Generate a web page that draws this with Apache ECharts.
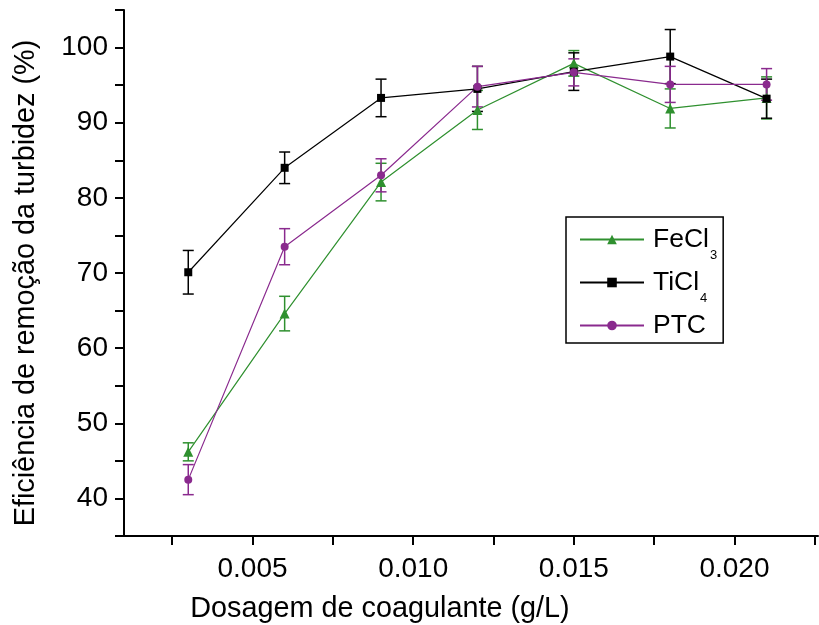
<!DOCTYPE html>
<html>
<head>
<meta charset="utf-8">
<script src="https://cdn.jsdelivr.net/npm/echarts@6/dist/echarts.min.js"></script>
<style>
html,body{margin:0;padding:0;background:#fff;}
#chart{width:819px;height:625px;}
</style>
</head>
<body>
<div id="chart"></div>
<script>
// Data
const doses = [0.003, 0.006, 0.009, 0.012, 0.015, 0.018, 0.021];
const fecl3 = [46.2, 64.6, 82.1, 91.7, 97.9, 91.9, 93.3];
const fecl3Err = [1.2, 2.3, 2.5, 2.6, 1.7, 2.6, 2.8];
const ticl4 = [70.1, 84.0, 93.3, 94.5, 96.8, 98.8, 93.2];
const ticl4Err = [2.9, 2.1, 2.5, 3.0, 2.5, 3.6, 2.6];
const ptc = [42.5, 73.5, 83.0, 94.8, 96.7, 95.1, 95.1];
const ptcErr = [2.0, 2.4, 2.2, 2.7, 1.8, 2.4, 2.1];
const seriesNames = ['FeCl3', 'TiCl4', 'PTC'];
const xTickValues = [0.0025, 0.005, 0.0075, 0.010, 0.0125, 0.015, 0.0175, 0.020, 0.0225];
const xLabelValues = [0.005, 0.010, 0.015, 0.020];
const yLabelValues = [40, 50, 60, 70, 80, 90, 100];

const GREEN = '#2f902f';
const BLACK = '#000000';
const PURPLE = '#8a2a8e';
const FONT = '"Liberation Sans", Arial, sans-serif';

function pairs(ys) { return doses.map((x, i) => [x, ys[i]]); }

function errorSeries(name, ys, errs, color) {
  return {
    type: 'custom',
    name: name,
    z: 1,
    silent: true,
    renderItem: function (params, api) {
      const x = api.value(0), y = api.value(1), e = api.value(2);
      const top = api.coord([x, y + e]);
      const bot = api.coord([x, y - e]);
      const w = 5.5;
      const st = { stroke: color, lineWidth: 1.5 };
      return {
        type: 'group',
        children: [
          { type: 'line', shape: { x1: top[0], y1: top[1], x2: bot[0], y2: bot[1] }, style: st },
          { type: 'line', shape: { x1: top[0] - w, y1: top[1], x2: top[0] + w, y2: top[1] }, style: st },
          { type: 'line', shape: { x1: bot[0] - w, y1: bot[1], x2: bot[0] + w, y2: bot[1] }, style: st }
        ]
      };
    },
    data: doses.map((x, i) => [x, ys[i], errs[i]])
  };
}

function lineSeries(name, ys, color, symbol, size) {
  return {
    type: 'line',
    name: name,
    z: 3,
    data: pairs(ys),
    symbol: symbol,
    symbolSize: size,
    showAllSymbol: true,
    lineStyle: { color: color, width: 1.2 },
    itemStyle: { color: color },
    emphasis: { disabled: true }
  };
}

const chart = echarts.init(document.getElementById('chart'), null, { renderer: 'canvas' });
chart.setOption({
  animation: false,
  backgroundColor: '#ffffff',
  grid: { left: 124, right: 1, top: 10, bottom: 89, containLabel: false, outerBoundsMode: 'none' },
  xAxis: {
    type: 'value',
    min: 0.001,
    max: 0.0226,
    name: 'Dosagem de coagulante (g/L)',
    nameLocation: 'middle',
    nameGap: 59,
    nameTextStyle: { color: '#000', fontSize: 28.8, fontFamily: FONT, padding: [0, 182, 0, 0] },
    splitLine: { show: false },
    axisLine: { lineStyle: { color: '#000', width: 2 } },
    axisTick: { show: true, inside: false, length: 9, lineStyle: { color: '#000', width: 2 }, customValues: xTickValues },
    axisLabel: {
      color: '#000', fontSize: 28, fontFamily: FONT, margin: 19,
      customValues: xLabelValues,
      formatter: v => v.toFixed(3)
    }
  },
  yAxis: {
    type: 'value',
    min: 35,
    max: 105,
    interval: 5,
    name: 'Eficiência de remoção da turbidez (%)',
    nameLocation: 'middle',
    nameGap: 83,
    nameTextStyle: { color: '#000', fontSize: 28.8, fontFamily: FONT, padding: [0, 20, 0, 0] },
    splitLine: { show: false },
    axisLine: { show: true, lineStyle: { color: '#000', width: 2 } },
    axisTick: { show: true, inside: false, length: 9, lineStyle: { color: '#000', width: 2 } },
    axisLabel: {
      color: '#000', fontSize: 28, fontFamily: FONT, margin: 16,
      formatter: v => (yLabelValues.indexOf(v) >= 0 ? String(v) : '')
    }
  },
  legend: {
    data: seriesNames,
    orient: 'vertical',
    left: 566,
    top: 217,
    padding: [0, 6, -5, 13],
    itemWidth: 64,
    itemHeight: 12,
    itemGap: -2,
    borderColor: '#000',
    borderWidth: 1.5,
    backgroundColor: '#fff',
    selectedMode: false,
    formatter: function (name) {
      const m = name.match(/^(.*?)(\d)$/);
      if (m) return '{a|' + m[1] + '}{b|' + m[2] + '}';
      return '{a|' + name + '}{b| }';
    },
    textStyle: {
      color: '#000',
      fontFamily: FONT,
      rich: {
        a: { fontSize: 26.5, fontFamily: FONT, color: '#000', padding: [0, 0, 0, 4] },
        b: { fontSize: 13, lineHeight: 26, fontFamily: FONT, color: '#000', padding: [32, 0, 0, 1] }
      }
    }
  },
  series: [
    errorSeries('FeCl3 err', fecl3, fecl3Err, GREEN),
    errorSeries('TiCl4 err', ticl4, ticl4Err, BLACK),
    errorSeries('PTC err', ptc, ptcErr, PURPLE),
    lineSeries('FeCl3', fecl3, GREEN, 'triangle', 10),
    lineSeries('TiCl4', ticl4, BLACK, 'rect', 8),
    lineSeries('PTC', ptc, PURPLE, 'circle', 8)
  ]
});
</script>
</body>
</html>
